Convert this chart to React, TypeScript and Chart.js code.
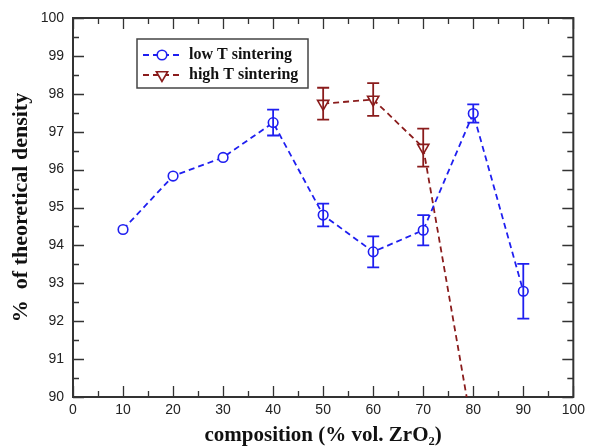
import React, { useEffect, useRef } from "react";
import { Chart, registerables } from "chart.js";

Chart.register(...registerables);

// ---- data ----
const lowTComp = [10, 20, 30, 40, 50, 60, 70, 80, 90];
const lowTDensity = [94.42, 95.83, 96.32, 97.24, 94.8, 93.83, 94.4, 97.48, 92.79];
const lowTErr = [0, 0, 0, 0.34, 0.3, 0.41, 0.4, 0.24, 0.72];

const highTComp = [50, 60, 70, 80];
const highTDensity = [97.74, 97.85, 96.58, 89.0];
const highTErr = [0.42, 0.43, 0.5, 0];

const xMajorTicks = [0, 10, 20, 30, 40, 50, 60, 70, 80, 90, 100];
const xMinorTicks = [5, 15, 25, 35, 45, 55, 65, 75, 85, 95];
const yMajorTicks = [90, 91, 92, 93, 94, 95, 96, 97, 98, 99, 100];
const yMinorTicks = [90.5, 91.5, 92.5, 93.5, 94.5, 95.5, 96.5, 97.5, 98.5, 99.5];

const BLUE = "#1f1ff0";
const RED = "#8a1c1c";
const AXIS = "#333333";

const errors = [lowTErr, highTErr];

const framePlugin = {
  id: "frame",
  beforeDatasetsDraw(chart: any) {
    const { ctx, chartArea, scales } = chart;
    const { left, right, top, bottom } = chartArea;
    const x = scales.x;
    const y = scales.y;
    ctx.save();
    ctx.strokeStyle = AXIS;
    ctx.lineWidth = 1.3;
    const drawX = (vals: number[], len: number) => {
      vals.forEach((v) => {
        const px = Math.round(x.getPixelForValue(v)) + 0.5;
        ctx.beginPath();
        ctx.moveTo(px, bottom);
        ctx.lineTo(px, bottom - len);
        ctx.moveTo(px, top);
        ctx.lineTo(px, top + len);
        ctx.stroke();
      });
    };
    const drawY = (vals: number[], len: number) => {
      vals.forEach((v) => {
        const py = Math.round(y.getPixelForValue(v)) + 0.5;
        ctx.beginPath();
        ctx.moveTo(left, py);
        ctx.lineTo(left + len, py);
        ctx.moveTo(right, py);
        ctx.lineTo(right - len, py);
        ctx.stroke();
      });
    };
    drawX(xMajorTicks, 11);
    drawX(xMinorTicks, 6);
    drawY(yMajorTicks, 11);
    drawY(yMinorTicks, 6);
    ctx.lineWidth = 2;
    ctx.strokeRect(left, top, right - left, bottom - top);
    ctx.restore();
  },
};

const errorBarPlugin = {
  id: "errorBars",
  afterDatasetsDraw(chart: any) {
    const { ctx, chartArea, scales } = chart;
    ctx.save();
    ctx.beginPath();
    ctx.rect(chartArea.left, chartArea.top, chartArea.right - chartArea.left, chartArea.bottom - chartArea.top);
    ctx.clip();
    chart.data.datasets.forEach((ds: any, i: number) => {
      const errs = errors[i];
      ctx.strokeStyle = ds.borderColor;
      ctx.lineWidth = 1.8;
      ds.data.forEach((p: any, j: number) => {
        const e = errs[j];
        if (!e) return;
        const px = scales.x.getPixelForValue(p.x);
        const y1 = scales.y.getPixelForValue(p.y + e);
        const y2 = scales.y.getPixelForValue(p.y - e);
        const cap = 6;
        ctx.beginPath();
        ctx.moveTo(px, y1);
        ctx.lineTo(px, y2);
        ctx.moveTo(px - cap, y1);
        ctx.lineTo(px + cap, y1);
        ctx.moveTo(px - cap, y2);
        ctx.lineTo(px + cap, y2);
        ctx.stroke();
      });
    });
    ctx.restore();
  },
};

const legendPlugin = {
  id: "customLegend",
  afterDraw(chart: any) {
    const { ctx } = chart;
    const bx = 137;
    const by = 39;
    const bw = 171;
    const bh = 49;
    ctx.save();
    ctx.fillStyle = "#ffffff";
    ctx.fillRect(bx, by, bw, bh);
    ctx.strokeStyle = "#444";
    ctx.lineWidth = 1.5;
    ctx.strokeRect(bx, by, bw, bh);
    const rows = [55, 75];
    chart.data.datasets.forEach((ds: any, i: number) => {
      const cy = rows[i];
      ctx.strokeStyle = ds.borderColor;
      ctx.lineWidth = 2;
      ctx.setLineDash([6, 4]);
      ctx.beginPath();
      ctx.moveTo(143, cy);
      ctx.lineTo(180, cy);
      ctx.stroke();
      ctx.setLineDash([]);
      const mx = 162;
      ctx.fillStyle = "#ffffff";
      ctx.lineWidth = 1.6;
      ctx.beginPath();
      if (ds.pointStyle === "triangle") {
        const r = 6.5;
        ctx.moveTo(mx, cy + r);
        ctx.lineTo(mx - r * Math.sin(Math.PI / 3), cy - r / 2);
        ctx.lineTo(mx + r * Math.sin(Math.PI / 3), cy - r / 2);
        ctx.closePath();
      } else {
        ctx.arc(mx, cy, 4.8, 0, Math.PI * 2);
      }
      ctx.fill();
      ctx.stroke();
      ctx.fillStyle = "#111";
      ctx.font = "bold 16px 'Liberation Serif'";
      ctx.textBaseline = "middle";
      ctx.textAlign = "left";
      ctx.fillText(ds.label, 189, cy);
    });
    ctx.restore();
  },
};

export default function App() {
  const canvasRef = useRef<HTMLCanvasElement | null>(null);

  useEffect(() => {
    if (!canvasRef.current) return;
    const chart = new Chart(canvasRef.current, {
      type: "scatter",
      data: {
        datasets: [
          {
            label: "low T sintering",
            data: lowTComp.map((c, i) => ({ x: c, y: lowTDensity[i] })),
            showLine: true,
            borderColor: BLUE,
            backgroundColor: "#ffffff",
            borderWidth: 1.8,
            borderDash: [6, 4],
            pointStyle: "circle",
            pointRadius: 4.8,
            pointBorderWidth: 1.6,
            pointBorderColor: BLUE,
            pointBackgroundColor: "#ffffff",
          },
          {
            label: "high T sintering",
            data: highTComp.map((c, i) => ({ x: c, y: highTDensity[i] })),
            showLine: true,
            borderColor: RED,
            backgroundColor: "#ffffff",
            borderWidth: 1.8,
            borderDash: [6, 4],
            pointStyle: "triangle",
            rotation: 180,
            pointRadius: 6.5,
            pointBorderWidth: 1.6,
            pointBorderColor: RED,
            pointBackgroundColor: "#ffffff",
          },
        ],
      },
      options: {
        animation: false,
        responsive: true,
        maintainAspectRatio: false,
        layout: { padding: { top: 18, right: 15, left: 0, bottom: 0 } },
        plugins: {
          legend: { display: false },
          tooltip: { enabled: false },
        },
        scales: {
          x: {
            type: "linear",
            min: 0,
            max: 100,
            afterBuildTicks: (s: any) => {
              s.ticks = xMajorTicks.map((v) => ({ value: v }));
            },
            afterFit: (s: any) => {
              s.height = 50;
            },
            ticks: {
              autoSkip: false,
              maxRotation: 0,
              padding: 5,
              color: "#222",
              font: { family: "'Liberation Sans'", size: 14 },
            },
            grid: { display: false, drawTicks: false },
            border: { display: false },
            title: {
              display: true,
              text: "composition (% vol. ZrO₂)",
              color: "#111",
              font: { family: "'Liberation Serif'", size: 21, weight: "bold" },
              padding: { top: 0, bottom: -1 },
            },
          },
          y: {
            type: "linear",
            min: 90,
            max: 100,
            afterBuildTicks: (s: any) => {
              s.ticks = yMajorTicks.map((v) => ({ value: v }));
            },
            afterFit: (s: any) => {
              s.width = 73;
            },
            ticks: {
              autoSkip: false,
              padding: 9,
              color: "#222",
              font: { family: "'Liberation Sans'", size: 14 },
            },
            grid: { display: false, drawTicks: false },
            border: { display: false },
            title: {
              display: true,
              text: "%  of theoretical density",
              color: "#111",
              font: { family: "'Liberation Serif'", size: 22, weight: "bold" },
              padding: { top: 8, bottom: 0 },
            },
          },
        },
      },
      plugins: [framePlugin, errorBarPlugin, legendPlugin],
    } as any);
    return () => chart.destroy();
  }, []);

  return (
    <div style={{ position: "absolute", left: 0, top: 0, width: 590, height: 447, background: "#fff" }}>
      <canvas ref={canvasRef} />
    </div>
  );
}
